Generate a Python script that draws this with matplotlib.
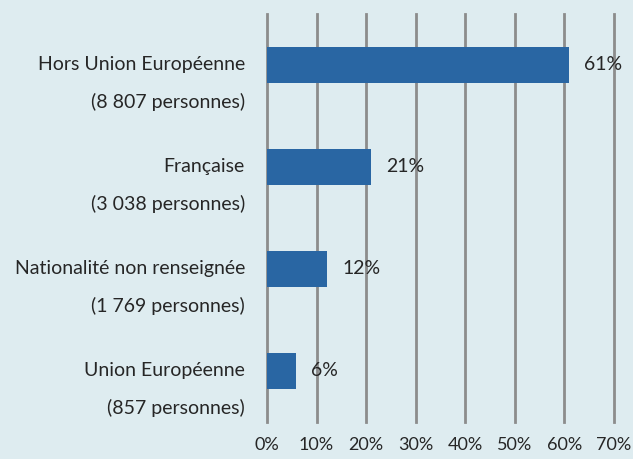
import matplotlib
matplotlib.use("Agg")
import matplotlib.pyplot as plt

categories = ["Hors Union Européenne", "Française", "Nationalité non renseignée", "Union Européenne"]
counts_labels = ["(8 807 personnes)", "(3 038 personnes)", "(1 769 personnes)", "(857 personnes)"]
values = [60.9, 21.0, 12.2, 5.9]
value_labels = ["61%", "21%", "12%", "6%"]
xticks = [0, 10, 20, 30, 40, 50, 60, 70]
xtick_labels = ["0%", "10%", "20%", "30%", "40%", "50%", "60%", "70%"]

bg = "#deecf0"
bar_color = "#2966a3"
text_color = "#262626"

plt.rcParams['font.family'] = ['Lato', 'DejaVu Sans']

fig = plt.figure(figsize=(6.33, 4.59), dpi=100, facecolor=bg)
ax = fig.add_axes([0.4218, 0.0806, 0.548, 0.889])
ax.set_facecolor(bg)

y = list(range(len(categories)))
ax.barh(y, values, height=0.36, color=bar_color, zorder=3)
ax.set_xlim(0, 70)
ax.set_ylim(3.5, -0.5)

ax.set_xticks(xticks)
ax.set_xticklabels(xtick_labels, fontsize=13, color=text_color)
ax.set_yticks([])
ax.tick_params(axis='x', length=0, pad=11)
ax.grid(axis='x', color='#8c8c8c', linewidth=2, zorder=1)
for gl in ax.get_xgridlines():
    gl.set_clip_on(False)
for s in ax.spines.values():
    s.set_visible(False)

for i, (c, n, v, vl) in enumerate(zip(categories, counts_labels, values, value_labels)):
    ax.annotate(c, xy=(0, i), xycoords=('axes fraction', 'data'), xytext=(-22, 0),
                textcoords='offset pixels', ha='right', va='center', fontsize=14, color=text_color)
    ax.annotate(n, xy=(0, i), xycoords=('axes fraction', 'data'), xytext=(-22, -37),
                textcoords='offset pixels', ha='right', va='center', fontsize=14, color=text_color)
    ax.annotate(vl, xy=(v, i), xytext=(15, 0), textcoords='offset pixels',
                ha='left', va='center', fontsize=14, color=text_color, zorder=4)

fig.savefig("out.png", dpi=100, facecolor=bg)
